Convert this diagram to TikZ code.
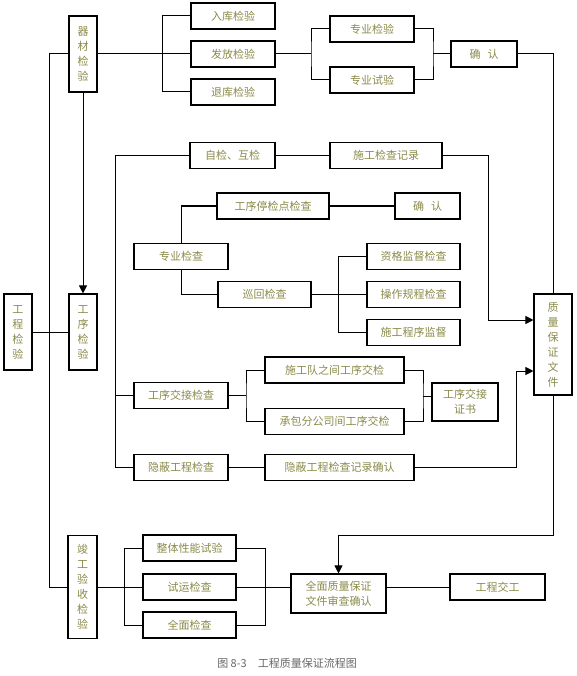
\documentclass[tikz,border=0pt]{standalone}
\usepackage{fontspec}
\newfontfamily\cjk{Noto Sans CJK SC}
\usepackage{tikz}
\usetikzlibrary{positioning, arrows.meta}
\definecolor{textolive}{RGB}{138,138,74}

\begin{document}
\begin{tikzpicture}[
    x=1pt, y=-1pt,
    box/.style={
        rectangle,
        draw=black,
        line width=1.1pt,
        minimum height=26pt,
        inner sep=0pt,
        align=center,
        text=textolive,
        font=\cjk\fontsize{11}{15}\selectfont
    },
    vbox/.style={
        box,
        minimum width=28pt
    },
    line/.style={
        line width=1pt,
        black
    },
    arrow/.style={
        line,
        ->,
        >={Triangle[length=8pt,width=8pt]}
    }
]
\useasboundingbox (0,0) rectangle (576,676);

% Node 1: Material inspection
\node[vbox, minimum height=76pt] (qcjy) at (83,54) {器\\材\\检\\验};
\node[box, minimum width=84pt] (rkjy) at (233,16) {入库检验};
\node[box, minimum width=84pt] (ffjy) at (233,54) {发放检验};
\node[box, minimum width=84pt] (tkjy) at (233,92) {退库检验};
\node[box, minimum width=84pt] (zyjy) at (372,29) {专业检验};
\node[box, minimum width=84pt, below=23.9pt of zyjy] (zysy) {专业试验};
\node[box, minimum width=66pt] (qr1) at (484,54) {确\hspace{7pt}认};

% Node 2: Process inspection
\node[vbox, minimum height=76pt] (gcjy) at (18,332) {工\\程\\检\\验};
\node[vbox, minimum height=76pt] (gxjy) at (83,332) {工\\序\\检\\验};
\node[box, minimum width=85pt] (zjhj) at (232.5,155.5) {自检、互检};
\node[box, minimum width=112pt] (sgjl) at (386,155.5) {施工检查记录};
\node[box, minimum width=112pt] (tjd) at (273,206) {工序停检点检查};
\node[box, minimum width=65pt] (qr2) at (427.5,206) {确\hspace{7pt}认};
\node[box, minimum width=94pt] (zyjc) at (181,256.5) {专业检查};
\node[box, minimum width=93pt] (xhjc) at (264.5,294.5) {巡回检查};
\node[box, minimum width=93pt] (zgjd) at (413.5,256.5) {资格监督检查};
\node[box, minimum width=93pt, below=10.9pt of zgjd] (czgc) {操作规程检查};
\node[box, minimum width=93pt, below=10.9pt of czgc] (sgcx) {施工程序监督};
\node[box, minimum width=94pt] (gxjj) at (181,395.5) {工序交接检查};
\node[box, minimum width=139pt] (sgd) at (334.5,370) {施工队之间工序交检};
\node[box, minimum width=139pt] (cbfgs) at (334.5,421.5) {承包分公司间工序交检};
\node[box, minimum width=66pt, minimum height=38pt] (jjzs) at (465,402) {工序交接\\证书};
\node[box, minimum width=94pt] (ybjc) at (181,467.5) {隐蔽工程检查};
\node[box, minimum width=149pt] (ybqr) at (339.5,467.5) {隐蔽工程检查记录确认};

% Node 3: Quality documents
\node[vbox, minimum width=38pt, minimum height=101pt] (zlbz) at (553,344.5) {质\\量\\保\\证\\文\\件};

% Node 4: Completion inspection
\node[vbox, minimum width=29pt, minimum height=103pt] (jgys) at (82.5,587) {竣\\工\\验\\收\\检\\验};
\node[box, minimum width=93pt] (ztxn) at (189.5,548) {整体性能试验};
\node[box, minimum width=93pt] (syjc) at (189.5,587) {试运检查};
\node[box, minimum width=93pt] (qmjc) at (189.5,625) {全面检查};
\node[box, minimum width=95pt, minimum height=39pt] (qmzl) at (338.5,593.5) {全面质量保证\\文件审查确认};
\node[box, minimum width=95pt] (gcjg) at (497.5,587) {工程交工};

% Caption
\node[font=\cjk\fontsize{11}{13}\selectfont, text=black!60] (title) at (287,663) {图\ 8-3\quad 工程质量保证流程图};

% Junctions
\coordinate (jA) at (311,54);
\coordinate (jB) at (433,54);
\coordinate (jC) at (246,395.5);
\coordinate (jD) at (423,396);

% Arrows and lines
\draw[line] (qcjy.west) -- ++(-19,0) |- (jgys.west);
\draw[line] (gcjy.east) -- (gxjy.west);
\draw[arrow] (qcjy.south) -- (gxjy.north);
\draw[line] (qcjy.east) -- (ffjy.west);
\draw[line] (rkjy.west) -- ++(-28,0) |- (tkjy.west);
\draw[line] (ffjy.east) -- (jA);
\draw[line] (zyjy.west) -| (jA) |- (zysy.west);
\draw[line] (zyjy.east) -| (jB) |- (zysy.east);
\draw[line] (jB) -- (qr1.west);
\draw[line] (qr1.east) -| (zlbz.north);

\draw[line] (zjhj.west) -- ++(-74,0) |- (ybjc.west);
\draw[line] (gxjj.west) -- ++(-18,0);
\draw[line] (zjhj.east) -- (sgjl.west);
\draw[arrow] (sgjl.east) -- ++(46,0) |- ([yshift=24.5pt]zlbz.west);
\draw[line] (tjd.west) -| (zyjc.north);
\draw[line] (zyjc.south) |- (xhjc.west);
\draw[line] (tjd.east) -- (qr2.west);
\draw[line] (xhjc.east) -- (czgc.west);
\draw[line] (zgjd.west) -- ++(-28,0) |- (sgcx.west);
\draw[line] (gxjj.east) -- (jC);
\draw[line] (sgd.west) -| (jC) |- (cbfgs.west);
\draw[line] (sgd.east) -| (jD) |- (cbfgs.east);
\draw[line] (jD) -- (jD -| jjzs.west);
\draw[line] (ybjc.east) -- (ybqr.west);
\draw[arrow] (ybqr.east) -- ++(102,0) |- ([yshift=-26.5pt]zlbz.west);

\draw[arrow] (zlbz.south) -- ++(0,139.5) -| (qmzl.north);
\draw[line] (jgys.east) -- (syjc.west);
\draw[line] (ztxn.west) -- ++(-18,0) |- (qmjc.west);
\draw[line] (ztxn.east) -- ++(29,0) |- (qmjc.east);
\draw[line] (syjc.east) -- (syjc.east -| qmzl.west);
\draw[line] (qmzl.east |- gcjg.west) -- (gcjg.west);

\end{tikzpicture}
\end{document}
